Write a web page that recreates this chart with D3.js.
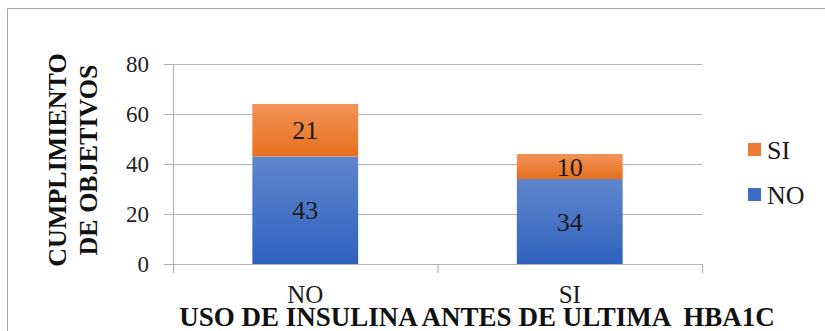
<!DOCTYPE html>
<html>
<head>
<meta charset="utf-8">
<script src="https://cdn.jsdelivr.net/npm/d3@7"></script>
</head>
<body style="margin:0">
<svg id="chart" width="825" height="331"></svg>
<script>
// Categories on the x axis (insulin use before last HbA1c)
const categories = ["NO", "SI"];
// Stacked series: objectives met (NO / SI)
const seriesNames = ["NO", "SI"];
const valuesNO = [43, 34];
const valuesSI = [21, 10];
const yTicks = [0, 20, 40, 60, 80];

const xTitle = "USO DE INSULINA ANTES DE ULTIMA  HBA1C";
const yTitleLines = ["CUMPLIMIENTO", "DE OBJETIVOS"];

const serifFamilies = ["Liberation Serif", "Times New Roman", "Tinos"];
const fontStack = () => serifFamilies.map(f => `'${f}'`).join(", ") + ", serif";

const svg = d3.select("#chart");

// chart frame
svg.append("path")
  .attr("d", "M7.5,331 V8.5 H825")
  .attr("fill", "none")
  .attr("stroke", "#a6a6a6")
  .attr("stroke-width", 1);

const plot = { left: 173, right: 702, top: 64, bottom: 264 };

const x = d3.scaleBand().domain(categories).range([plot.left, plot.right]);
const y = d3.scaleLinear().domain([0, 80]).range([plot.bottom, plot.top]);

const defs = svg.append("defs");
function grad(id, top, bottom) {
  const g = defs.append("linearGradient").attr("id", id)
    .attr("x1", 0).attr("y1", 0).attr("x2", 0).attr("y2", 1);
  g.append("stop").attr("offset", "0%").attr("stop-color", top);
  g.append("stop").attr("offset", "100%").attr("stop-color", bottom);
}
grad("gNO", "#5f87cd", "#2f61bd");
grad("gSI", "#f3935a", "#e6701c");
const colors = { NO: "url(#gNO)", SI: "url(#gSI)" };
const legendColors = { NO: "#3d6cc4", SI: "#ee7b32" };

// gridlines
svg.append("g").selectAll("line").data(yTicks).join("line")
  .attr("x1", plot.left - 9).attr("x2", plot.right)
  .attr("y1", d => Math.round(y(d)) + 0.5).attr("y2", d => Math.round(y(d)) + 0.5)
  .attr("stroke", "#b3b3b3").attr("stroke-width", 1.2);

// y axis line
svg.append("line")
  .attr("x1", plot.left + 0.5).attr("x2", plot.left + 0.5)
  .attr("y1", plot.top).attr("y2", plot.bottom + 9)
  .attr("stroke", "#b3b3b3").attr("stroke-width", 1.2);

// x axis category separators
const sep = categories.map(c => x(c)).concat([plot.right]);
svg.append("g").selectAll("line").data(sep).join("line")
  .attr("x1", d => d + 0.5).attr("x2", d => d + 0.5)
  .attr("y1", plot.bottom).attr("y2", plot.bottom + 9)
  .attr("stroke", "#b3b3b3").attr("stroke-width", 1.2);

// y tick labels
svg.append("g").selectAll("text").data(yTicks).join("text")
  .attr("x", 149).attr("y", d => y(d))
  .attr("dy", "0.35em")
  .attr("text-anchor", "end")
  .style("font-family", fontStack)
  .attr("font-size", 23)
  .attr("fill", "#222")
  .text(d => d);

// stacked bars
const rows = categories.map((c, i) => ({ cat: c, NO: valuesNO[i], SI: valuesSI[i] }));
const stack = d3.stack().keys(seriesNames)(rows);
const barW = x.bandwidth() * 0.4;

stack.forEach(layer => {
  const g = svg.append("g");
  g.selectAll("rect").data(layer).join("rect")
    .attr("x", d => x(d.data.cat) + (x.bandwidth() - barW) / 2)
    .attr("width", barW)
    .attr("y", d => y(d[1]))
    .attr("height", d => y(d[0]) - y(d[1]))
    .attr("fill", colors[layer.key]);
  g.selectAll("text").data(layer).join("text")
    .attr("x", d => x(d.data.cat) + x.bandwidth() / 2)
    .attr("y", d => (y(d[0]) + y(d[1])) / 2)
    .attr("dy", "0.35em")
    .attr("text-anchor", "middle")
    .style("font-family", fontStack)
    .attr("font-size", 26)
    .attr("fill", "#1a1a1a")
    .text(d => d[1] - d[0]);
});

// category labels
svg.append("g").selectAll("text").data(categories).join("text")
  .attr("x", d => x(d) + x.bandwidth() / 2)
  .attr("y", 303)
  .attr("text-anchor", "middle")
  .style("font-family", fontStack)
  .attr("font-size", 25)
  .attr("fill", "#1a1a1a")
  .text(d => d);

// x axis title
svg.append("text")
  .attr("x", 477).attr("y", 326)
  .attr("text-anchor", "middle")
  .style("font-family", fontStack)
  .attr("font-size", 27)
  .attr("font-weight", "bold")
  .style("white-space", "pre")
  .attr("fill", "#111")
  .text(xTitle);

// y axis title (two lines, rotated)
const yt = svg.append("text")
  .attr("transform", "translate(0,160) rotate(-90)")
  .attr("text-anchor", "middle")
  .style("font-family", fontStack)
  .attr("font-size", 26)
  .attr("font-weight", "bold")
  .attr("fill", "#111");
yTitleLines.forEach((t, i) => {
  yt.append("tspan").attr("x", 0).attr("y", 66 + i * 31).text(t);
});

// legend (SI above NO)
const legendItems = ["SI", "NO"];
const lg = svg.append("g").selectAll("g").data(legendItems).join("g")
  .attr("transform", (d, i) => `translate(748,${143 + i * 45})`);
lg.append("rect").attr("width", 13).attr("height", 13)
  .attr("fill", d => legendColors[d]);
lg.append("text").attr("x", 19).attr("y", 6.5).attr("dy", "0.35em")
  .style("font-family", fontStack)
  .attr("font-size", 26).attr("fill", "#1a1a1a")
  .text(d => d);
</script>
</body>
</html>
